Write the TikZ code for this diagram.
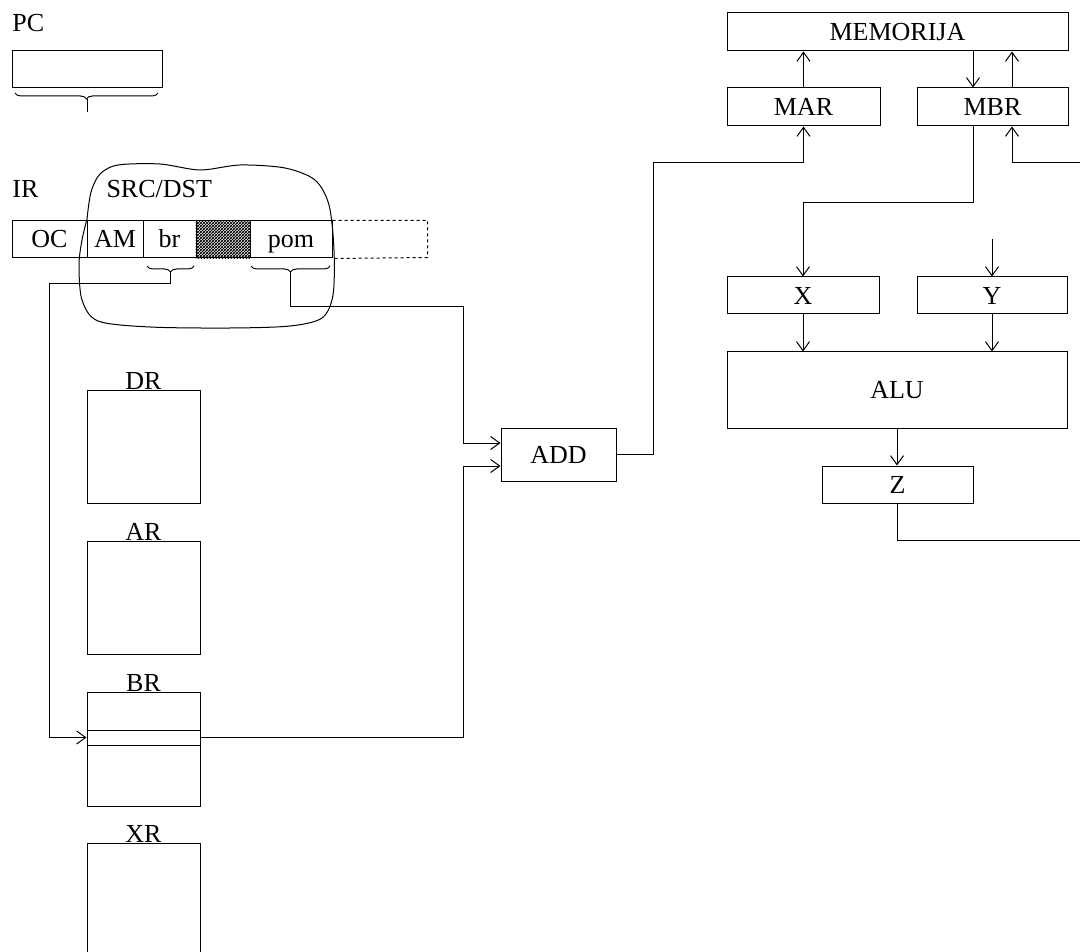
\documentclass[tikz,border=0pt]{standalone}
\usepackage{fontspec}
\setmainfont{Liberation Serif}
\usetikzlibrary{arrows.meta,decorations.pathreplacing,patterns,calc}
\begin{document}
\begin{tikzpicture}[x=1pt,y=-1pt,line width=1pt,
  font=\fontsize{26}{30}\selectfont,
  box/.style={draw,rectangle,inner sep=0pt},
  cell/.style={box,minimum height=37pt,text height=17pt,text depth=0pt},
  lbl/.style={inner sep=0pt},
  arr/.style={-{Straight Barb[length=9pt,width=13pt,line width=1pt]}},
  brc/.style={decorate,decoration={brace,mirror,amplitude=6pt}}]
\useasboundingbox (0,0) rectangle (1080,952);
\clip (0,0) rectangle (1080,952);
% PC
\node[lbl,anchor=base west] (pcl) at (12,32) {PC};
\node[box,minimum width=150pt,minimum height=37pt] (pc) at (87,69.5) {};
\draw[brc] (15,93) -- (158,93);
\coordinate (pctip) at (87,99);
\coordinate (pcend) at (87,112);
\draw (pctip) -- (pcend);
% IR
\node[lbl,anchor=base west] (irl) at (12,198) {IR};
\node[lbl,anchor=base west] (srcl) at (106,198) {SRC/DST};
\node[cell,minimum width=75pt] (oc) at (49.5,239.5) {OC};
\node[cell,minimum width=56pt] (am) at (115,239.5) {AM};
\node[cell,minimum width=53pt] (brc) at (169.5,239.5) {br};
\node[cell,minimum width=54pt,pattern=crosshatch] (hat) at (223,239.5) {};
\fill[pattern=north east lines] (hat.north west) rectangle (hat.south east);
\fill[pattern=crosshatch dots] (hat.north west) rectangle (hat.south east);
\node[cell,minimum width=82pt] (pom) at (291,239.5) {pom};
\draw[dashed] (pom.north east) -- ++(95,0) -- ++(0,37) -- (pom.south east);
\draw[brc] (147,266) -- (194,266);
\draw[brc] (251,266) -- (330,266);
\coordinate (brtip) at (170.5,272);
\coordinate (pomtip) at (290.5,272);
% cloud
\draw plot[smooth,tension=0.5] coordinates {(87,219) (91,192) (100,174) (118,165) (160,164) (200,170) (240,165) (285,168) (315,180) (329,205) (334,250) (333,295) (322,318) (290,326) (230,328) (150,327) (98,321) (82,300) (79,265) (82,240) (87,219)};
% register files
\node[box,minimum width=113pt,minimum height=113pt] (dr) at (143.5,446.5) {};
\node[lbl,anchor=base] at (dr.north) {DR};
\node[box,minimum width=113pt,minimum height=113pt] (ar) at (143.5,597.5) {};
\node[lbl,anchor=base] at (ar.north) {AR};
\node[box,minimum width=113pt,minimum height=114pt] (brg) at (143.5,749) {};
\node[lbl,anchor=base] at (brg.north) {BR};
\node[box,minimum width=113pt,minimum height=15pt] (brrow) at (143.5,737.5) {};
\node[box,minimum width=113pt,minimum height=114pt] (xr) at (143.5,900) {};
\node[lbl,anchor=base] at (xr.north) {XR};
% ADD
\node[box,minimum width=115pt,minimum height=53pt] (add) at (558.5,454.5) {ADD};
% right part
\node[box,minimum width=341pt,minimum height=38pt] (mem) at (897.5,32) {MEMORIJA};
\node[box,minimum width=153pt,minimum height=38pt] (mar) at (803.5,107) {MAR};
\node[box,minimum width=151pt,minimum height=38pt] (mbr) at (992.5,107) {MBR};
\node[box,minimum width=152pt,minimum height=37pt] (X) at (803,295.5) {X};
\node[box,minimum width=150pt,minimum height=37pt] (Y) at (992,295.5) {Y};
\node[box,minimum width=340pt,minimum height=76pt] (alu) at (897,390) {ALU};
\node[box,minimum width=151pt,minimum height=37pt] (z) at (897.5,484.5) {Z};
% connectors
\coordinate (c2) at (49,284);
\draw[arr] (brtip) |- (c2) |- (brrow.west);
\coordinate (c3) at (463,307);
\draw[arr] (pomtip) |- (c3) |- ([yshift=11.5pt]add.west);
\coordinate (c4) at (463,466);
\draw[arr] (brrow.east) -| (c4) -- ([yshift=-11.5pt]add.west);
\coordinate (c5) at (653,163);
\draw[arr] (add.east) -| (c5) -| (mar.south);
\draw[arr] (mar.north) -- (mar.north |- mem.south);
\draw[arr] ([xshift=-19.5pt]mbr.north |- mem.south) -- ([xshift=-19.5pt]mbr.north);
\draw[arr] ([xshift=19.5pt]mbr.north) -- ([xshift=19.5pt]mbr.north |- mem.south);
\coordinate (c6) at (973,203);
\draw[arr] ([xshift=-19.5pt]mbr.south) -- (c6) -| (X.north);
\coordinate (rin) at (1080,163);
\draw[arr] (rin) -| ([xshift=19.5pt]mbr.south);
\coordinate (yin) at (992,239);
\draw[arr] (yin) -- (Y.north);
\draw[arr] (X.south) -- (X.south |- alu.north);
\draw[arr] (Y.south) -- (Y.south |- alu.north);
\draw[arr] (alu.south) -- (alu.south |- z.north);
\coordinate (zout) at (1080,540);
\draw (z.south) |- (zout);
\end{tikzpicture}
\end{document}
